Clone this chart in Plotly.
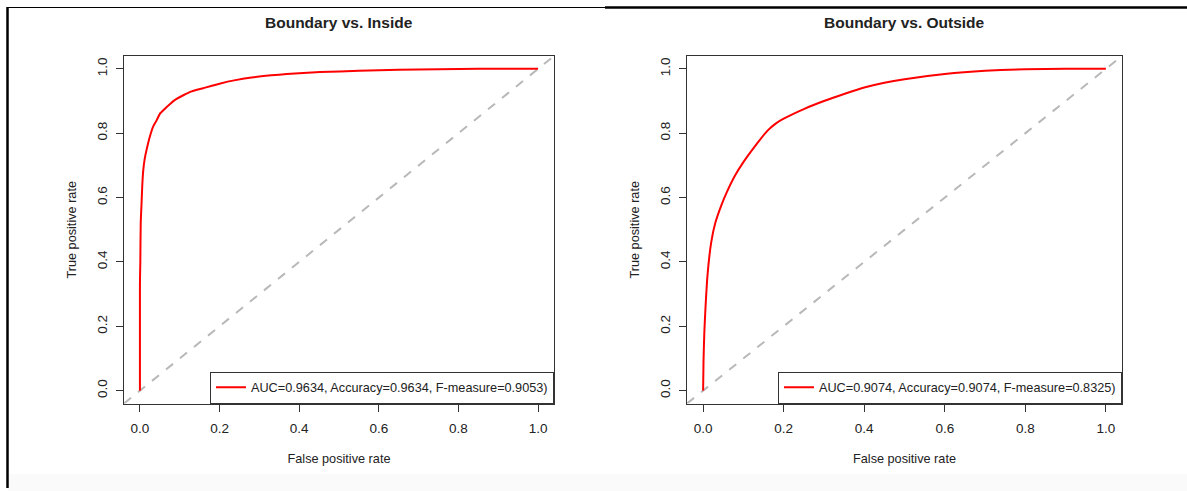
import plotly.graph_objects as go

# ROC curve points (false positive rate, true positive rate)
inside_fpr = [0, 0, 0.001, 0.002, 0.004, 0.006, 0.008, 0.012, 0.017, 0.025, 0.033,
              0.042, 0.05, 0.062, 0.075, 0.09, 0.109, 0.13, 0.159, 0.20, 0.24,
              0.285, 0.33, 0.369, 0.41, 0.452, 0.55, 0.65, 0.75, 0.85, 1.0]
inside_tpr = [0, 0.33, 0.40, 0.52, 0.58, 0.64, 0.68, 0.72, 0.75, 0.79, 0.82,
              0.84, 0.86, 0.875, 0.89, 0.905, 0.918, 0.93, 0.94, 0.954, 0.965,
              0.974, 0.98, 0.984, 0.987, 0.99, 0.994, 0.997, 0.999, 1.0, 1.0]

outside_fpr = [0, 0.001, 0.003, 0.006, 0.011, 0.02, 0.03, 0.045, 0.06, 0.08, 0.10,
               0.12, 0.14, 0.16, 0.18, 0.20, 0.25, 0.30, 0.35, 0.40, 0.45, 0.50,
               0.60, 0.70, 0.80, 0.90, 1.0]
outside_tpr = [0, 0.09, 0.18, 0.26, 0.36, 0.46, 0.52, 0.575, 0.62, 0.67, 0.71,
               0.745, 0.778, 0.808, 0.83, 0.845, 0.875, 0.90, 0.922, 0.942, 0.957, 0.968,
               0.984, 0.994, 0.999, 1.0, 1.0]

inside_label = "AUC=0.9634, Accuracy=0.9634, F-measure=0.9053)"
outside_label = "AUC=0.9074, Accuracy=0.9074, F-measure=0.8325)"
panel_titles = ["Boundary vs. Inside", "Boundary vs. Outside"]

tick_vals = [0.0, 0.2, 0.4, 0.6, 0.8, 1.0]
tick_text = ["0.0", "0.2", "0.4", "0.6", "0.8", "1.0"]
diag = [-0.04, 1.04]

W, H = 1187, 491
FONT = "Liberation Sans, Arial, sans-serif"
TXT = "#222222"
AX = "#333333"


def px_x(p):
    return p / W


def px_y(p):
    return 1 - p / H


left_dom = [px_x(124), px_x(554)]
right_dom = [px_x(687), px_x(1122)]
y_dom = [px_y(403.5), px_y(56)]

fig = go.Figure()

# diagonal reference lines
for xa, ya in [("x", "y"), ("x2", "y2")]:
    fig.add_trace(go.Scatter(x=diag, y=diag, mode="lines", showlegend=False,
                             line=dict(color="#b8b8b8", width=2, dash="dash"),
                             xaxis=xa, yaxis=ya, hoverinfo="skip"))

# ROC curves
fig.add_trace(go.Scatter(x=inside_fpr, y=inside_tpr, mode="lines", name=inside_label,
                         line=dict(color="#ff0000", width=2, shape="spline", smoothing=0.6),
                         xaxis="x", yaxis="y", legend="legend"))
fig.add_trace(go.Scatter(x=outside_fpr, y=outside_tpr, mode="lines", name=outside_label,
                         line=dict(color="#ff0000", width=2, shape="spline", smoothing=0.6),
                         xaxis="x2", yaxis="y2", legend="legend2"))

axis_common = dict(range=[-0.04, 1.04], tickvals=tick_vals, ticktext=tick_text,
                   showgrid=False, zeroline=False, showline=True, mirror=True,
                   linecolor=AX, linewidth=1, ticks="outside", ticklen=7,
                   tickwidth=1, tickcolor=AX, automargin=False,
                   tickfont=dict(family=FONT, size=13.5, color=TXT))

xcommon = dict(axis_common, ticklabelstandoff=5,
               title=dict(text="False positive rate", standoff=19,
                          font=dict(family=FONT, size=12.7, color=TXT)))
ycommon = dict(axis_common, tickangle=-90, ticklabelstandoff=4,
               title=dict(text="True positive rate", standoff=15,
                          font=dict(family=FONT, size=12.7, color=TXT)))

legend_common = dict(bgcolor="white", bordercolor=AX, borderwidth=1,
                     font=dict(family=FONT, size=12.7, color=TXT),
                     xanchor="right", yanchor="bottom", itemwidth=30,
                     tracegroupgap=0)

fig.update_layout(
    width=W, height=H,
    margin=dict(l=0, r=0, t=0, b=0),
    paper_bgcolor="white", plot_bgcolor="white",
    xaxis=dict(xcommon, domain=left_dom, anchor="y"),
    yaxis=dict(ycommon, domain=y_dom, anchor="x"),
    xaxis2=dict(xcommon, domain=right_dom, anchor="y2"),
    yaxis2=dict(ycommon, domain=y_dom, anchor="x2"),
    legend=dict(legend_common, x=left_dom[1], y=y_dom[0]),
    legend2=dict(legend_common, x=right_dom[1], y=y_dom[0]),
)

# panel titles
for title, dom in zip(panel_titles, [left_dom, right_dom]):
    fig.add_annotation(text="<b>" + title + "</b>", xref="paper", yref="paper",
                       x=(dom[0] + dom[1]) / 2, y=px_y(22), showarrow=False,
                       xanchor="center", yanchor="middle",
                       font=dict(family=FONT, size=15.5, color=TXT))

# page frame and faint bottom band
fig.add_shape(type="rect", xref="paper", yref="paper", x0=px_x(8), x1=1,
              y0=0, y1=px_y(474), fillcolor="rgba(0,0,0,0.02)", line=dict(width=0),
              layer="below")
fig.add_shape(type="line", xref="paper", yref="paper", x0=px_x(7), x1=px_x(606),
              y0=px_y(7.5), y1=px_y(7.5), line=dict(color="black", width=1))
fig.add_shape(type="line", xref="paper", yref="paper", x0=px_x(605), x1=1,
              y0=px_y(7.5), y1=px_y(7.5), line=dict(color="black", width=2.5))
fig.add_shape(type="line", xref="paper", yref="paper", x0=px_x(7.5), x1=px_x(7.5),
              y0=px_y(488), y1=px_y(7), line=dict(color="black", width=2.5))

fig.write_html("out.html")
